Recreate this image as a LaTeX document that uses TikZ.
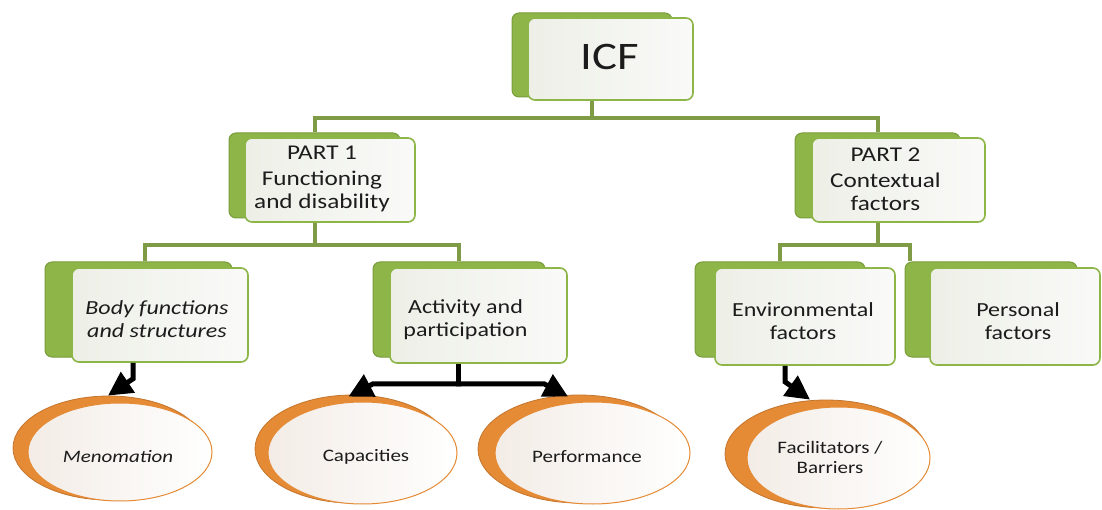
\documentclass[tikz,border=0pt]{standalone}
\usepackage{graphicx}
\usepackage{fontspec}
\setmainfont{Carlito}
\usetikzlibrary{arrows.meta,shapes.geometric,calc}
\newcommand{\hs}[1]{\scalebox{1.2}[1]{#1}}
\definecolor{grn}{HTML}{8DB548}
\definecolor{grnD}{HTML}{7A9C3A}
\definecolor{conncol}{HTML}{7F9B45}
\definecolor{boxfill}{HTML}{EDEFE7}
\definecolor{orng}{HTML}{E58A35}
\definecolor{ellfill}{HTML}{F3ECE6}
\definecolor{txt}{HTML}{1C1C1C}
\tikzset{
  backbox/.style={draw=grnD, line width=1pt, fill=grn, rounded corners=7pt, inner sep=0pt},
  frontbox/.style={draw=grn, line width=1.6pt, rounded corners=7pt, inner sep=0pt,
     left color=boxfill, middle color=boxfill, right color=boxfill!30!white,
     text=txt, align=center},
  backell/.style={ellipse, draw=orng!85!black, line width=0.8pt, fill=orng, inner sep=0pt},
  frontell/.style={ellipse, draw=orng, line width=1pt, inner sep=0pt,
     left color=ellfill, middle color=ellfill, right color=white, text=txt, align=center},
  conn/.style={draw=conncol, line width=4pt},
  arr/.style={draw=black, line width=5pt, -{Triangle[length=24pt,width=24pt]}},
  big/.style={font=\fontsize{39}{42}\selectfont},
  mid/.style={font=\fontsize{21}{23}\selectfont},
  lvl/.style={font=\fontsize{20}{23}\selectfont},
  elt/.style={font=\fontsize{17.5}{20}\selectfont},
}
\begin{document}
\begin{tikzpicture}[x=1pt,y=-1pt]
\useasboundingbox (0,0) rectangle (1102,510);
% back boxes
\node[backbox, minimum width=160, minimum height=84] (icfB) at (592,55) {};
\node[backbox, minimum width=171, minimum height=85] (p1B) at (314.5,175.5) {};
\node[backbox, minimum width=165, minimum height=85] (p2B) at (877.5,175.5) {};
\node[backbox, minimum width=187, minimum height=95] (bodyB) at (138.5,309.5) {};
\node[backbox, minimum width=172, minimum height=95] (actB) at (459,309.5) {};
\node[backbox, minimum width=170, minimum height=95] (envB) at (780,309.5) {};
\node[backbox, minimum width=172, minimum height=95] (persB) at (991,309.5) {};
% connectors
\draw[conn] (icfB.south) -- ++(0,19) coordinate (j0);
\draw[conn] (p1B.north) -- ++(0,-14) -| (p2B.north);
\draw[conn] (p1B.south) -- ++(0,27) coordinate (j1);
\draw[conn] ([xshift=6]bodyB.north) |- (j1) -| (actB.north);
\draw[conn] (p2B.south) -- ++(0,27) coordinate (j2);
\draw[conn] (envB.north) |- (j2) -| ([xshift=5]persB.north west);
% front boxes
\node[frontbox, minimum width=165, minimum height=82] (icfF) at (610.5,59) {};
\node[frontbox, minimum width=170, minimum height=84] (p1F) at (330,180) {};
\node[frontbox, minimum width=173, minimum height=84] (p2F) at (898.5,180) {};
\node[frontbox, minimum width=176, minimum height=94] (bodyF) at (160,315) {};
\node[frontbox, minimum width=177, minimum height=95] (actF) at (478.5,315.5) {};
\node[frontbox, minimum width=180, minimum height=97] (envF) at (805,316.5) {};
\node[frontbox, minimum width=170, minimum height=97] (persF) at (1015,316.5) {};
% box texts
\node[big, text=txt] (icfT) at ([xshift=-1,yshift=2]icfF.center) {\hs{ICF}};
\node[mid, text=txt, align=center] (p1T) at ([xshift=-8,yshift=1]p1F.center) {\hs{PART 1}\\[3pt]\hs{Functioning}\\\hs{and disability}};
\node[mid, text=txt, align=center] (p2T) at ([xshift=-13,yshift=1]p2F.center) {\hs{PART 2}\\[3pt]\hs{Contextual}\\\hs{factors}};
\node[lvl, text=txt, align=center] (bodyT) at ([xshift=-3,yshift=-4]bodyF.center) {\hs{\itshape Body functions}\\\hs{\itshape and structures}};
\node[lvl, text=txt, align=center] (actT) at ([xshift=-13,yshift=-4]actF.center) {\hs{Activity and}\\\hs{participation}};
\node[lvl, text=txt, align=center] (envT) at ([xshift=-2,yshift=-5]envF.center) {\hs{Environmental}\\\hs{factors}};
\node[lvl, text=txt, align=center] (persT) at ([xshift=3,yshift=-5]persF.center) {\hs{Personal}\\\hs{factors}};
% ellipses
\node[backell, minimum width=192, minimum height=104] (menB) at (109,448) {};
\node[backell, minimum width=195, minimum height=108] (capB) at (352.5,449) {};
\node[backell, minimum width=202, minimum height=108] (perfB) at (579,449) {};
\node[backell, minimum width=202, minimum height=108] (facB) at (826,454) {};
\node[frontell, minimum width=184, minimum height=98] (menF) at (120,452) {};
\node[frontell, minimum width=189, minimum height=102] (capF) at (362.5,453) {};
\node[frontell, minimum width=195, minimum height=102] (perfF) at (592.5,453) {};
\node[frontell, minimum width=183, minimum height=102] (facF) at (838.5,458) {};
\node[elt, text=txt] (menT) at (118,457) {\hs{\itshape Menomation}};
\node[elt, text=txt] (capT) at (366,457) {\hs{Capacities}};
\node[elt, text=txt] (perfT) at (587,457) {\hs{Performance}};
\node[elt, text=txt, align=center] (facT) at (830,457) {\hs{Facilitators /}\\\hs{Barriers}};
% arrows
\draw[arr] ([xshift=-27]bodyF.south) -- ++(0,16) -- ([xshift=-1]menB.north);
\draw[draw=black, line width=5pt] ([xshift=-20]actF.south) -- ++(0,20) coordinate (ja);
\draw[arr] ([xshift=2.5]ja) -- ++(-88,0) -- ([xshift=-4,yshift=-2]capB.north);
\draw[arr] ([xshift=-2.5]ja) -- ++(88,0) -- ([xshift=-11,yshift=-2]perfB.north);
\draw[arr] ([xshift=-20]envF.south) -- ++(0,16) -- ([xshift=-16]facB.north);
\end{tikzpicture}
\end{document}
